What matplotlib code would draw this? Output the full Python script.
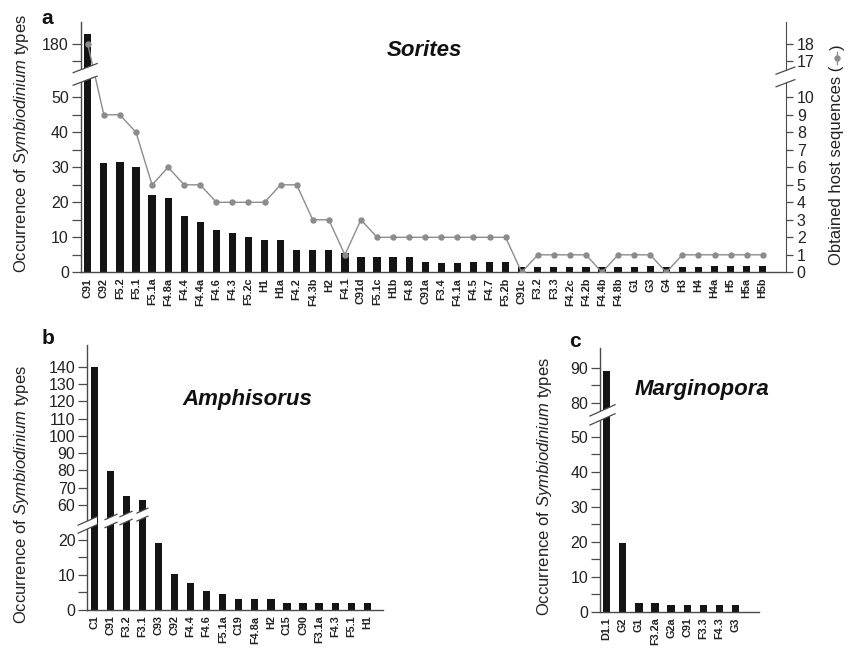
import numpy as np
import matplotlib
matplotlib.use('Agg')
import matplotlib.pyplot as plt
from matplotlib.patches import Polygon
from matplotlib.lines import Line2D
from matplotlib.ticker import NullFormatter
from matplotlib.transforms import IdentityTransform

plt.rcParams['font.family'] = ['Liberation Sans', 'DejaVu Sans']
plt.rcParams['mathtext.fontset'] = 'custom'
plt.rcParams['mathtext.rm'] = 'Liberation Sans'
plt.rcParams['mathtext.it'] = 'Liberation Sans:italic'

# ---- data ----
sorites_types = ['C91', 'C92', 'F5.2', 'F5.1', 'F5.1a', 'F4.8a', 'F4.4', 'F4.4a', 'F4.6',
                 'F4.3', 'F5.2c', 'H1', 'H1a', 'F4.2', 'F4.3b', 'H2', 'F4.1', 'C91d',
                 'F5.1c', 'H1b', 'F4.8', 'C91a', 'F3.4', 'F4.1a', 'F4.5', 'F4.7', 'F5.2b',
                 'C91c', 'F3.2', 'F3.3', 'F4.2c', 'F4.2b', 'F4.4b', 'F4.8b', 'G1', 'G3',
                 'G4', 'H3', 'H4', 'H4a', 'H5', 'H5a', 'H5b']
sorites_counts = [186, 31.3, 31.4, 30.2, 22.2, 21.1, 16.2, 14.5, 12.1, 11.2, 10.1, 9.1,
                  9.1, 6.4, 6.4, 6.4, 5.6, 4.5, 4.4, 4.5, 4.5, 2.9, 2.7, 2.8, 2.9, 2.9,
                  2.9, 1.6, 1.6, 1.6, 1.6, 1.6, 1.6, 1.6, 1.6, 1.8, 1.6, 1.6, 1.6, 1.7,
                  1.7, 1.8, 1.8]
sorites_hosts = [18, 9, 9, 8, 5, 6, 5, 5, 4, 4, 4, 4, 5, 5, 3, 3, 1, 3, 2, 2, 2, 2, 2,
                 2, 2, 2, 2, 0, 1, 1, 1, 1, 0, 1, 1, 1, 0, 1, 1, 1, 1, 1, 1]

amphi_types = ['C1', 'C91', 'F3.2', 'F3.1', 'C93', 'C92', 'F4.4', 'F4.6', 'F5.1a', 'C19',
               'F4.8a', 'H2', 'C15', 'C90', 'F3.1a', 'F4.3', 'F5.1', 'H1']
amphi_counts = [140, 79.7, 65.2, 62.9, 19.1, 10.3, 7.6, 5.4, 4.5, 3.0, 3.0, 3.0, 1.9,
                1.9, 1.9, 1.9, 1.9, 1.9]

margi_types = ['D1.1', 'G2', 'G1', 'F3.2a', 'G2a', 'C91', 'F3.3', 'F4.3', 'G3']
margi_counts = [89.3, 19.7, 2.6, 2.6, 1.8, 1.8, 1.8, 1.8, 1.8]

# ---- style ----
W, H = 860, 653
BAR = '#141414'
AXC = '#4a4a4a'
TXT = '#222222'
LINE = '#8c8c8c'
TICKFS = 11.5

fig = plt.figure(figsize=(W / 100, H / 100), dpi=100)


def box(l, t, r, b):
    # pixel box (from top-left) -> figure fraction rect
    return [l / W, 1 - b / H, (r - l) / W, (b - t) / H]


def broken(vk, dk):
    # piecewise linear scale, squeezes the gap of a broken axis
    fwd = lambda v: np.interp(np.asarray(v, dtype=float), vk, dk)
    inv = lambda d: np.interp(np.asarray(d, dtype=float), dk, vk)
    return fwd, inv


def setup(ax, names, counts, vk, dk, ylim, major, minor, xlim):
    x = np.arange(len(names))
    ax.set_yscale('function', functions=broken(vk, dk))
    ax.bar(x, counts, width=0.45, color=BAR, zorder=2)
    ax.set_xlim(*xlim)
    ax.set_ylim(*ylim)
    ax.set_xticks(x)
    ax.set_xticklabels(names, rotation=90, fontsize=7.8, fontweight='bold', color=TXT)
    ax.tick_params(axis='x', length=0, pad=4)
    ax.set_yticks(major)
    ax.set_yticks(minor, minor=True)
    ax.yaxis.set_minor_formatter(NullFormatter())
    ax.tick_params(axis='y', which='both', length=6.5, width=0.9, color=AXC,
                   labelsize=TICKFS, labelcolor=TXT, pad=2)
    for s in ['top', 'right']:
        ax.spines[s].set_visible(False)
    for s in ['left', 'bottom']:
        ax.spines[s].set_color(AXC)
        ax.spines[s].set_linewidth(1.0)
    return x


def draw_break(ax, x0, x1, xc, y_ax, slope=0.4, gap=6):
    # white slanted band with two dark edges, drawn in pixels around (xc, y_ax)
    tr = ax.get_xaxis_transform()
    px0, py = tr.transform((x0, y_ax))
    px1, _ = tr.transform((x1, y_ax))
    pxc, _ = tr.transform((xc, y_ax))
    ya = py + slope * (px0 - pxc)
    yb = py + slope * (px1 - pxc)
    band = Polygon([(px0, ya - gap), (px1, yb - gap), (px1, yb + gap), (px0, ya + gap)],
                   closed=True, transform=IdentityTransform(), facecolor='white',
                   edgecolor='none', zorder=10)
    fig.add_artist(band)
    for s in (-gap, gap):
        fig.add_artist(Line2D([px0, px1], [ya + s, yb + s], transform=IdentityTransform(),
                              color=AXC, lw=0.9, zorder=11))


# ---- panel a: Sorites ----
axa = fig.add_axes(box(80.7, 21.7, 785.7, 272.3))
xa = setup(axa, sorites_types, sorites_counts,
           [-1000, 0, 55, 160, 1000], [-1000, 0, 55, 55.5, 55.5 + 840 * 0.485],
           (0, 193.2), [0, 10, 20, 30, 40, 50, 180], [5, 15, 25, 35, 45, 170],
           (-0.44, 43.43))

axh = axa.twinx()
axh.set_yscale('function', functions=broken([-1000, 0, 11, 16, 1000],
                                            [-5000, 0, 55, 55.5, 55.5 + 984 * 4.85]))
axh.plot(xa, sorites_hosts, color=LINE, lw=1, marker='o', ms=3.6, zorder=3)
axh.set_ylim(0, 19.32)
axh.set_yticks([0, 1, 2, 3, 4, 5, 6, 7, 8, 9, 10, 17, 18])
axh.tick_params(axis='y', length=5, width=0.9, color=AXC, labelsize=TICKFS,
                labelcolor=TXT, pad=3)
for s in ['top', 'left', 'bottom']:
    axh.spines[s].set_visible(False)
axh.spines['right'].set_color(AXC)

# ---- panel b: Amphisorus ----
axb = fig.add_axes(box(87.3, 345, 382.7, 610))
setup(axb, amphi_types, amphi_counts,
      [-1000, 0, 24, 55, 1000], [-1000, 0, 24, 27.37, 27.37 + 945 * 0.491],
      (0, 152.6), [0, 10, 20, 60, 70, 80, 90, 100, 110, 120, 130, 140], [5, 15],
      (-0.436, 17.96))

# ---- panel c: Marginopora ----
axc = fig.add_axes(box(600, 348.3, 759, 611.7))
setup(axc, margi_types, margi_counts,
      [-1000, 0, 54, 76, 1000], [-1000, 0, 54, 55.8, 55.8 + 924 * 0.98],
      (0, 95.8), [0, 10, 20, 30, 40, 50, 80, 90], [5, 15, 25, 35, 45, 85],
      (-0.416, 9.46))

# ---- axis breaks ----
draw_break(axa, -0.91, 0.58, -0.44, 0.783, slope=0.38, gap=6.3)
draw_break(axh, 42.83, 44.0, 43.43, 0.780, slope=0.38, gap=6.3)
for bx0, bx1, bxc, by in [(-1.01, 0.17, -0.42, 0.321), (0.67, 1.41, 1.04, 0.336),
                          (1.60, 2.35, 1.97, 0.347), (2.66, 3.34, 3.0, 0.360)]:
    draw_break(axb, bx0, bx1, bxc, by, slope=0.45, gap=4)
draw_break(axc, -1.04, 0.52, -0.416, 0.743, slope=0.45, gap=4.5)

# ---- texts ----
ylab = 'Occurrence of $\\mathit{Symbiodinium}$ types'
fig.text(22 / W, 1 - 143 / H, ylab, rotation=90, ha='center', va='center', fontsize=12, color=TXT)
fig.text(22 / W, 1 - 494 / H, ylab, rotation=90, ha='center', va='center', fontsize=12, color=TXT)
fig.text(544 / W, 1 - 486 / H, ylab, rotation=90, ha='center', va='center', fontsize=12, color=TXT)

t1 = fig.text(841.5 / W, 1 - 265 / H, 'Obtained host sequences (', rotation=90,
              rotation_mode='anchor', ha='left', va='baseline', fontsize=12, color=TXT)
fig.canvas.draw()
bb = t1.get_window_extent()
sx = 841.5 - 4.3
top = bb.y1
fig.add_artist(Line2D([sx, sx], [top + 2, top + 14], transform=IdentityTransform(),
                      color=LINE, lw=1))
fig.add_artist(Line2D([sx], [top + 8], transform=IdentityTransform(), color=LINE,
                      marker='o', ms=3.6, lw=0))
fig.text(841.5 / W, (top + 16) / H, ')', rotation=90, rotation_mode='anchor',
         ha='left', va='baseline', fontsize=12, color=TXT)

for label, cx, cy in [('Sorites', 424, 50), ('Amphisorus', 247, 400), ('Marginopora', 702, 390)]:
    fig.text(cx / W, 1 - cy / H, label, ha='center', va='center', fontsize=16,
             fontweight='bold', fontstyle='italic', color='#111111')

for label, cx, cy in [('a', 47, 19), ('b', 48, 338), ('c', 575, 341)]:
    fig.text(cx / W, 1 - cy / H, label, ha='center', va='center', fontsize=15,
             fontweight='bold', color='#111111')

fig.savefig('out.png', dpi=100)
